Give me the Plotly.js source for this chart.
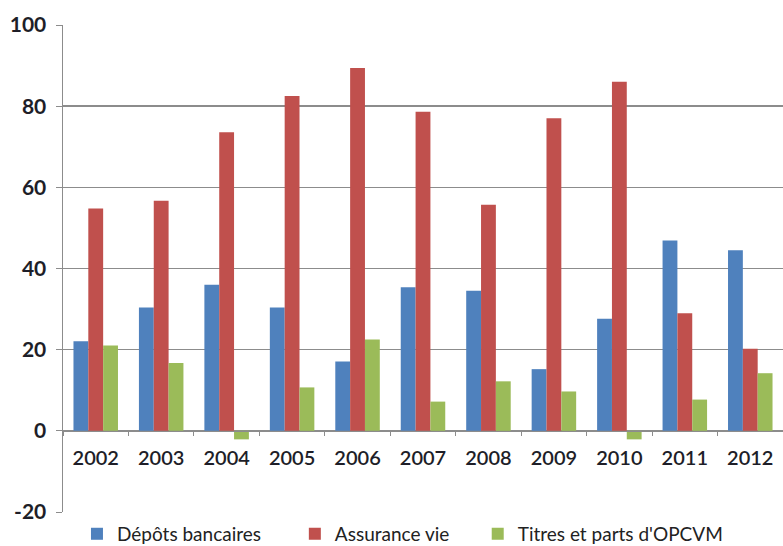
<!DOCTYPE html>
<html>
<head>
<meta charset="utf-8">
<script src="https://cdn.plot.ly/plotly-3.0.1.min.js"></script>
<style>
  html, body { margin: 0; padding: 0; background: #fff; }
  #chart { width: 783px; height: 546px; }
</style>
</head>
<body>
<div id="chart"></div>
<script>
const years = ["2002", "2003", "2004", "2005", "2006", "2007", "2008", "2009", "2010", "2011", "2012"];
const depots = [22.1, 30.4, 36.0, 30.4, 17.1, 35.4, 34.5, 15.2, 27.6, 46.9, 44.5];
const assurance = [54.8, 56.7, 73.6, 82.5, 89.4, 78.6, 55.7, 77.0, 86.0, 29.0, 20.2];
const titres = [21.0, 16.7, -2.1, 10.7, 22.5, 7.2, 12.2, 9.7, -2.1, 7.7, 14.2];

const yTickVals = [-20, 0, 20, 40, 60, 80, 100];
const yTickText = ["-20", "0", "20", "40", "60", "80", "100"];

const yMin = -20;
const yMax = 100;

// one legend box per series so each key sits where the original has it
const series = [
  { name: "Dépôts bancaires", values: depots, color: "#4f81bd", legend: "legend", lx: 0.0194 },
  { name: "Assurance vie", values: assurance, color: "#c0504d", legend: "legend2", lx: 0.322 },
  { name: "Titres et parts d'OPCVM", values: titres, color: "#9bbb59", legend: "legend3", lx: 0.576 },
];

const traces = series.map((s) => ({
  type: "bar",
  name: s.name,
  x: years,
  y: s.values,
  legend: s.legend,
  marker: { color: s.color },
  hoverinfo: "x+y+name",
}));

const font = "Lato, 'Open Sans', sans-serif";

const layout = {
  width: 783,
  height: 546,
  margin: { l: 63, r: 0, t: 25, b: 34, autoexpand: false },
  paper_bgcolor: "#ffffff",
  plot_bgcolor: "#ffffff",
  barmode: "group",
  bargap: 0.32,
  bargroupgap: 0,
  font: { family: font, color: "#222222" },
  xaxis: {
    type: "category",
    anchor: "free",
    // category axis sits on the zero line
    position: (0 - yMin) / (yMax - yMin),
    showline: true,
    linecolor: "#8c8c8c",
    linewidth: 1.5,
    ticks: "outside",
    tickson: "boundaries",
    ticklen: 4,
    tickcolor: "#8c8c8c",
    ticklabelstandoff: 9,
    showgrid: false,
    tickfont: { size: 20, weight: 600, color: "#1e1e28" },
  },
  yaxis: {
    range: [yMin, yMax],
    tickvals: yTickVals,
    ticktext: yTickText,
    showline: true,
    linecolor: "#8c8c8c",
    linewidth: 1.5,
    ticks: "outside",
    ticklen: 6,
    tickcolor: "#8c8c8c",
    ticklabelstandoff: 5,
    showgrid: true,
    gridcolor: "#8c8c8c",
    gridwidth: 1.5,
    zeroline: false,
    tickfont: { size: 21, weight: 700, color: "#1e1e28" },
  },
  showlegend: true,
};

series.forEach((s) => {
  layout[s.legend] = {
    orientation: "h",
    x: s.lx,
    xanchor: "left",
    y: -0.045,
    yanchor: "middle",
    font: { size: 19, color: "#222222" },
    itemwidth: 30,
    bgcolor: "rgba(0,0,0,0)",
  };
});

Plotly.newPlot("chart", traces, layout, { displayModeBar: false, staticPlot: true });
</script>
</body>
</html>
